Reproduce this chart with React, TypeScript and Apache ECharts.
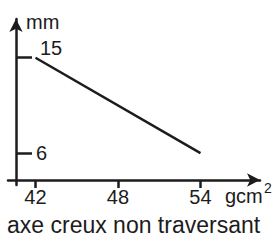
import React, { useEffect, useRef } from "react";
import * as echarts from "echarts";

const points: [number, number][] = [
  [42, 15],
  [54, 6],
];
const xTicks = [42, 48, 54];
const yTicks = [6, 15];
const xUnit = "gcm";
const xUnitPower = "2";
const yUnit = "mm";
const caption = "axe creux non traversant";

const INK = "#1c1c1c";
const FONT = "Liberation Sans";

export default function App() {
  const ref = useRef<HTMLDivElement>(null);
  useEffect(() => {
    if (!ref.current) return;
    const chart = echarts.init(ref.current, undefined, { renderer: "svg" });
    chart.setOption({
      animation: false,
      backgroundColor: "#ffffff",
      grid: { left: 8, right: 18, top: 19, bottom: 55 },
      xAxis: {
        type: "value",
        min: 40,
        max: 58.33,
        offset: -5,
        splitLine: { show: false },
        axisLine: {
          show: true,
          onZero: false,
          symbol: ["none", "arrow"],
          symbolSize: [10, 13],
          lineStyle: { color: INK, width: 2.5 },
        },
        axisTick: {
          show: true,
          customValues: xTicks,
          length: 8,
          lineStyle: { color: INK, width: 2.5 },
        },
        axisLabel: {
          customValues: xTicks,
          margin: 7,
          color: INK,
          fontFamily: FONT,
          fontSize: 20,
        },
      },
      yAxis: {
        type: "value",
        min: 3,
        max: 18.65,
        offset: -8,
        splitLine: { show: false },
        axisLine: {
          show: true,
          onZero: false,
          symbol: ["none", "arrow"],
          symbolSize: [10, 13],
          lineStyle: { color: INK, width: 2.5 },
        },
        axisTick: {
          show: true,
          inside: true,
          customValues: yTicks,
          length: 16,
          lineStyle: { color: INK, width: 2.5 },
        },
        axisLabel: {
          customValues: yTicks,
          inside: true,
          margin: 20,
          color: INK,
          fontFamily: FONT,
          fontSize: 20,
          formatter: (v: number) => (v === 15 ? "{hi|" + v + "}" : "{lo|" + v + "}"),
          rich: {
            hi: { fontFamily: FONT, fontSize: 20, color: INK, padding: [0, 0, 20, 4] },
            lo: { fontFamily: FONT, fontSize: 20, color: INK },
          },
        },
      },
      series: [
        {
          type: "line",
          data: points,
          symbol: "none",
          lineStyle: { color: INK, width: 2.5 },
        },
      ],
      graphic: [
        {
          type: "text",
          left: 26,
          top: 12,
          style: { text: yUnit, fill: INK, font: `20px '${FONT}'` },
        },
        {
          type: "text",
          left: 225,
          top: 186,
          style: { text: xUnit, fill: INK, font: `20px '${FONT}'` },
        },
        {
          type: "text",
          left: 264,
          top: 181,
          style: { text: xUnitPower, fill: INK, font: `14px '${FONT}'` },
        },
        {
          type: "text",
          left: 7,
          top: 213,
          style: { text: caption, fill: INK, font: `23px '${FONT}'` },
        },
      ],
    });
    return () => chart.dispose();
  }, []);
  return (
    <div
      ref={ref}
      style={{ position: "fixed", left: 0, top: 0, width: 278, height: 240 }}
    />
  );
}
